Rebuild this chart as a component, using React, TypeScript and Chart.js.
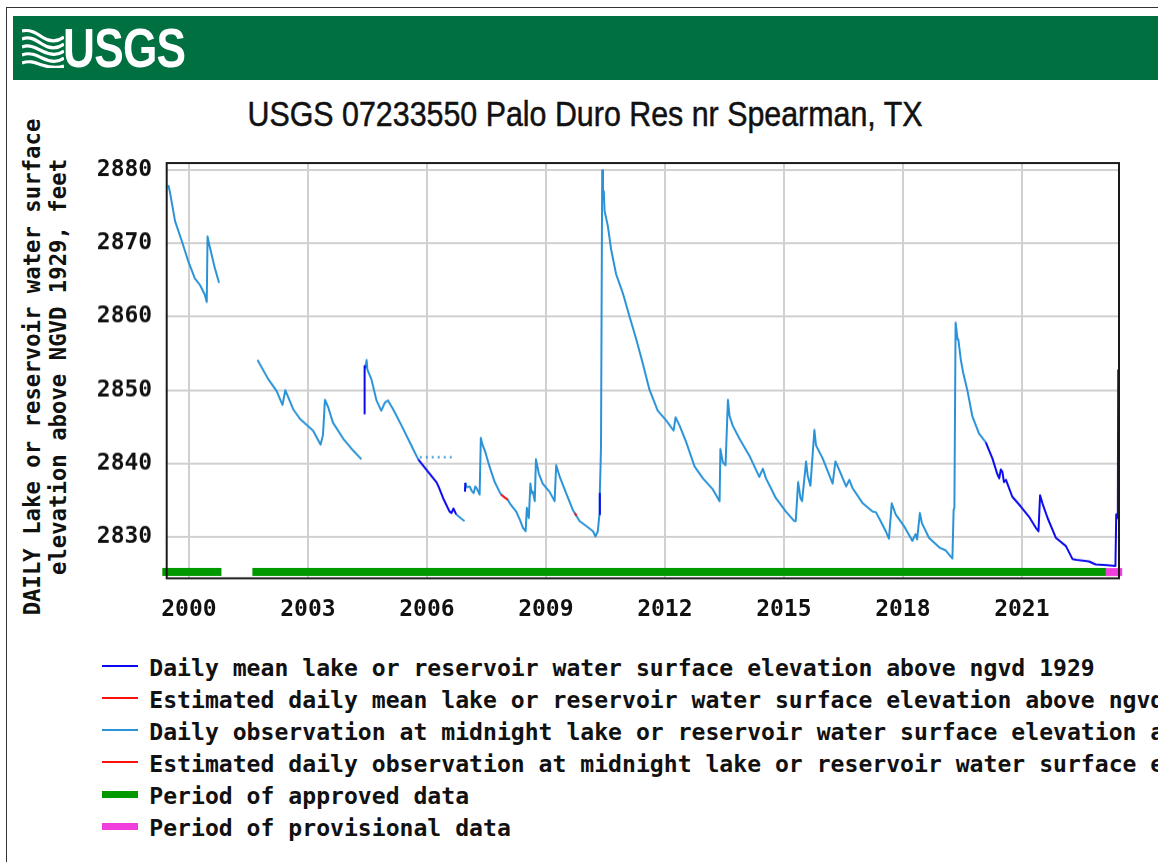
import React, { useEffect, useRef } from "react";
import { Chart, registerables } from "chart.js";

Chart.register(...registerables);

type P = [number, number];

// ---- Axis ticks ----
const xTickYears = [2000, 2003, 2006, 2009, 2012, 2015, 2018, 2021];
const yTickValues = [2830, 2840, 2850, 2860, 2870, 2880];

// ---- Daily observation at midnight (light blue) segments: [decimal year, feet] ----
const obs1999: P[] = [
  [1999.48, 2877.9], [1999.52, 2877.0], [1999.65, 2873.0], [1999.82, 2870.3],
  [1999.98, 2867.6], [2000.15, 2865.2], [2000.28, 2864.3], [2000.40, 2863.0],
  [2000.45, 2862.0], [2000.47, 2870.9], [2000.53, 2869.4], [2000.65, 2866.7],
  [2000.76, 2864.6],
];
const obs2001: P[] = [
  [2001.73, 2854.1], [2002.0, 2851.5], [2002.21, 2849.9], [2002.36, 2848.0],
  [2002.43, 2850.0], [2002.63, 2847.4], [2002.80, 2846.1], [2003.13, 2844.5],
  [2003.32, 2842.6], [2003.38, 2843.9], [2003.43, 2848.7], [2003.51, 2847.7],
  [2003.63, 2845.6], [2003.89, 2843.4], [2004.14, 2841.8], [2004.35, 2840.6],
];
const obs2004: P[] = [
  [2004.45, 2853.0], [2004.48, 2854.1], [2004.50, 2852.8], [2004.60, 2851.5],
  [2004.73, 2848.6], [2004.85, 2847.2], [2004.94, 2848.3], [2005.02, 2848.6],
  [2005.15, 2847.4], [2005.36, 2845.2], [2005.57, 2842.9], [2005.78, 2840.6],
];
const obs2006: P[] = [
  [2006.74, 2833.1], [2006.85, 2832.6], [2006.95, 2832.2],
];
const obs2007: P[] = [
  [2006.97, 2837.4], [2007.0, 2836.8], [2007.08, 2836.9], [2007.13, 2836.3],
  [2007.18, 2836.0], [2007.22, 2836.9], [2007.26, 2836.6], [2007.33, 2835.8],
  [2007.36, 2843.5], [2007.40, 2842.6], [2007.46, 2841.8], [2007.58, 2839.6],
  [2007.71, 2837.5], [2007.83, 2836.2], [2007.87, 2835.8], [2008.04, 2835.1],
  [2008.09, 2834.6], [2008.25, 2833.5], [2008.35, 2832.3], [2008.42, 2831.3],
  [2008.49, 2830.8], [2008.52, 2834.0], [2008.57, 2832.6], [2008.61, 2837.3],
  [2008.64, 2836.0], [2008.67, 2836.2], [2008.72, 2834.9], [2008.75, 2840.6],
  [2008.82, 2838.7], [2008.92, 2837.3], [2009.09, 2836.2], [2009.22, 2834.9],
  [2009.26, 2839.8], [2009.35, 2838.2], [2009.51, 2836.0], [2009.68, 2833.7],
  [2009.85, 2832.2], [2010.02, 2831.5], [2010.19, 2830.8], [2010.25, 2830.1],
  [2010.31, 2830.8], [2010.35, 2833.1], [2010.36, 2836.0], [2010.38, 2840.0],
  [2010.39, 2842.3], [2010.42, 2879.9], [2010.44, 2876.0], [2010.46, 2877.1],
  [2010.48, 2874.4], [2010.56, 2872.4], [2010.65, 2869.0], [2010.77, 2865.8],
  [2010.94, 2863.2], [2011.11, 2860.0], [2011.28, 2856.9], [2011.44, 2853.7],
  [2011.61, 2850.1], [2011.82, 2847.2], [2012.03, 2845.9], [2012.22, 2844.5],
  [2012.27, 2846.3], [2012.37, 2845.2], [2012.54, 2842.9], [2012.75, 2839.6],
  [2012.96, 2838.0], [2013.21, 2836.5], [2013.38, 2834.9], [2013.40, 2842.0],
  [2013.46, 2840.2], [2013.53, 2839.8], [2013.59, 2848.7], [2013.63, 2846.5],
  [2013.71, 2845.2], [2013.88, 2843.4], [2014.13, 2841.1], [2014.38, 2838.2],
  [2014.47, 2839.3], [2014.55, 2838.0], [2014.80, 2835.3], [2015.05, 2833.5],
  [2015.26, 2832.2], [2015.30, 2832.2], [2015.36, 2837.5], [2015.42, 2835.3],
  [2015.46, 2834.9], [2015.56, 2840.3], [2015.60, 2838.4], [2015.67, 2837.0],
  [2015.77, 2844.6], [2015.81, 2842.5], [2015.98, 2840.7], [2016.23, 2837.3],
  [2016.30, 2840.3], [2016.36, 2839.6], [2016.57, 2836.9], [2016.65, 2837.8],
  [2016.73, 2836.7], [2016.99, 2834.6], [2017.24, 2833.5], [2017.32, 2833.4],
  [2017.44, 2832.2], [2017.57, 2830.8], [2017.65, 2829.8], [2017.72, 2834.6],
  [2017.82, 2833.1], [2018.03, 2831.5], [2018.24, 2829.5], [2018.32, 2830.4],
  [2018.36, 2829.7], [2018.43, 2833.3], [2018.48, 2831.9], [2018.66, 2829.9],
  [2018.92, 2828.6], [2019.08, 2828.2], [2019.25, 2827.1], [2019.28, 2833.7],
  [2019.30, 2834.0], [2019.33, 2859.2], [2019.38, 2856.9], [2019.40, 2856.9],
  [2019.46, 2854.2], [2019.52, 2852.4], [2019.63, 2849.9], [2019.75, 2846.5],
  [2019.92, 2844.1], [2020.09, 2842.9],
];
// dotted observation run
const obsDotted2005: P[] = [[2005.82, 2840.9], [2006.66, 2840.9]];

// ---- Daily mean (dark blue) segments ----
const mean2004: P[] = [[2004.43, 2846.7], [2004.43, 2853.3], [2004.45, 2853.0]];
const mean2005: P[] = [
  [2005.78, 2840.6], [2006.03, 2838.9], [2006.24, 2837.5], [2006.30, 2836.8],
  [2006.41, 2835.3], [2006.57, 2833.5], [2006.62, 2833.3], [2006.67, 2833.9],
  [2006.74, 2833.1],
];
const mean2006: P[] = [[2006.96, 2836.2], [2006.97, 2837.4]];
const mean2010: P[] = [[2010.35, 2833.1], [2010.36, 2836.0]];
const mean2020: P[] = [
  [2020.09, 2842.9], [2020.26, 2840.7], [2020.38, 2838.6], [2020.43, 2838.0],
  [2020.47, 2839.2], [2020.51, 2838.9], [2020.55, 2837.5], [2020.60, 2837.8],
  [2020.76, 2835.5], [2020.97, 2834.2], [2021.18, 2832.8], [2021.35, 2831.3],
  [2021.42, 2830.8], [2021.46, 2835.7], [2021.52, 2834.6], [2021.65, 2832.6],
  [2021.86, 2829.9], [2022.11, 2828.8], [2022.28, 2827.0], [2022.38, 2826.9],
  [2022.69, 2826.7], [2022.86, 2826.3], [2023.15, 2826.2], [2023.36, 2826.1],
  [2023.38, 2833.1], [2023.42, 2832.6], [2023.43, 2852.8],
];

// ---- Estimated (red) segments ----
const estMean2007: P[] = [[2007.87, 2835.8], [2007.96, 2835.4], [2008.04, 2835.1]];
const estObs2009: P[] = [[2009.73, 2833.3], [2009.77, 2832.9]];

// ---- Data approval periods ----
const periodLevel = 2825.26;
const approvedPeriods: [number, number][] = [[1999.33, 2000.82], [2001.60, 2023.12]];
const provisionalPeriods: [number, number][] = [[2023.12, 2023.53]];

// ---- Colors ----
const C_MEAN = "#0a0af0";
const C_EST = "#ff1010";
const C_OBS = "#2a93d8";
const C_APPROVED = "#009900";
const C_PROV = "#f03edc";

const legendItems = [
  { label: "Daily mean lake or reservoir water surface elevation above ngvd 1929", color: C_MEAN, thick: 2 },
  { label: "Estimated daily mean lake or reservoir water surface elevation above ngvd 1929", color: C_EST, thick: 2 },
  { label: "Daily observation at midnight lake or reservoir water surface elevation above ngvd 1929", color: C_OBS, thick: 2 },
  { label: "Estimated daily observation at midnight lake or reservoir water surface elevation above ngvd 1929", color: C_EST, thick: 2 },
  { label: "Period of approved data", color: C_APPROVED, thick: 7 },
  { label: "Period of provisional data", color: C_PROV, thick: 7 },
];

type Pt = { x: number; y: number | null };

function joinSegments(segs: P[][]): Pt[] {
  const out: Pt[] = [];
  segs.forEach((seg, i) => {
    if (i > 0) {
      const prev = segs[i - 1];
      out.push({ x: (prev[prev.length - 1][0] + seg[0][0]) / 2, y: null });
    }
    seg.forEach(([x, y]) => out.push({ x, y }));
  });
  return out;
}

function periodPoints(periods: [number, number][]): Pt[] {
  return joinSegments(periods.map(([a, b]) => [[a, periodLevel], [b, periodLevel]] as P[]));
}

const MONO = '"DejaVu Sans Mono", monospace';

const framePlugin = {
  id: "frame",
  afterDatasetsDraw(chart: any) {
    const { ctx, chartArea } = chart;
    const { left, top, right, bottom } = chartArea;
    ctx.save();
    ctx.strokeStyle = "#1a1a1a";
    ctx.lineWidth = 2;
    ctx.strokeRect(left, top, right - left, bottom - top);
    ctx.restore();
  },
};

function lineDs(label: string, data: Pt[], color: string, extra: any = {}) {
  return {
    label,
    data,
    borderColor: color,
    backgroundColor: color,
    borderWidth: 2,
    pointRadius: 0,
    tension: 0,
    spanGaps: false,
    borderJoinStyle: "round",
    fill: false,
    ...extra,
  };
}

export default function App() {
  const canvasRef = useRef<HTMLCanvasElement>(null);

  useEffect(() => {
    const canvas = canvasRef.current;
    if (!canvas) return;
    const chart = new Chart(canvas, {
      type: "line",
      data: {
        datasets: [
          lineDs(legendItems[1].label, joinSegments([estMean2007]), C_EST),
          lineDs(legendItems[3].label, joinSegments([estObs2009]), C_EST),
          lineDs(legendItems[0].label, joinSegments([mean2004, mean2005, mean2006, mean2010, mean2020]), C_MEAN),
          lineDs(legendItems[2].label, joinSegments([obs1999, obs2001, obs2004, obs2006, obs2007]), C_OBS),
          lineDs("dotted observation", joinSegments([obsDotted2005]), C_OBS, { borderDash: [2, 4], borderWidth: 2 }),
          lineDs(legendItems[4].label, periodPoints(approvedPeriods), C_APPROVED, { borderWidth: 8, clip: false, borderCapStyle: "butt", borderJoinStyle: "miter" }),
          lineDs(legendItems[5].label, periodPoints(provisionalPeriods), C_PROV, { borderWidth: 8, clip: false, borderCapStyle: "butt", borderJoinStyle: "miter" }),
        ] as any,
      },
      options: {
        animation: false,
        responsive: true,
        maintainAspectRatio: false,
        devicePixelRatio: 1,
        layout: { padding: { left: 0, top: 0, right: 39, bottom: 0 } },
        plugins: {
          legend: { display: false },
          tooltip: { enabled: false },
          title: { display: false },
        },
        events: [],
        scales: {
          x: {
            type: "linear",
            min: 1999.44,
            max: 2023.45,
            afterBuildTicks: (scale: any) => {
              scale.ticks = xTickYears.map((v) => ({ value: v }));
            },
            afterFit: (scale: any) => {
              scale.height = 42.3;
            },
            grid: { color: "#d0d0d0", lineWidth: 2, drawTicks: false },
            border: { display: false },
            ticks: {
              autoSkip: false,
              maxRotation: 0,
              padding: 18,
              color: "#111",
              font: { family: MONO, size: 23, weight: "bold" },
              callback: (v: any) => String(v),
            },
          },
          y: {
            type: "linear",
            min: 2824.4,
            max: 2880.9,
            afterBuildTicks: (scale: any) => {
              scale.ticks = yTickValues.map((v) => ({ value: v }));
            },
            afterFit: (scale: any) => {
              scale.width = 166.7;
              scale.paddingTop = 0;
              scale.paddingBottom = 0;
            },
            grid: { color: "#d0d0d0", lineWidth: 2, drawTicks: false },
            border: { display: false },
            ticks: {
              autoSkip: false,
              padding: 14.5,
              color: "#111",
              font: { family: MONO, size: 23, weight: "bold" },
              callback: (v: any) => String(v),
            },
          },
        },
      } as any,
      plugins: [framePlugin],
    });
    return () => chart.destroy();
  }, []);

  return (
    <div
      style={{
        position: "absolute",
        left: 0,
        top: 0,
        width: 1158,
        height: 862,
        overflow: "hidden",
        background: "#fff",
      }}
    >
      {/* page frame */}
      <div
        style={{
          position: "absolute",
          left: 6,
          top: 7,
          width: 1200,
          height: 900,
          border: "1px solid #333",
          boxSizing: "border-box",
        }}
      />
      {/* header banner */}
      <div
        style={{
          position: "absolute",
          left: 13,
          top: 16,
          width: 1160,
          height: 64,
          background: "#007041",
        }}
      />
      <svg
        style={{ position: "absolute", left: 22, top: 27 }}
        width={42}
        height={41}
        viewBox="0 0 42 41"
      >
        <g fill="none" stroke="#fff" strokeWidth={3.2} strokeLinecap="butt">
          <path d="M0 4 C8 2, 14 6, 20 10 S34 16, 42 10" />
          <path d="M0 12 C8 9, 14 13, 20 17 S34 23, 42 17" />
          <path d="M0 20 C8 17, 14 21, 20 24 S34 30, 42 24" />
          <path d="M0 28 C8 25, 14 28, 20 31 S34 37, 42 31" />
          <path d="M0 36 C8 33, 14 36, 20 38 S34 42, 42 39" />
        </g>
      </svg>
      <div
        style={{
          position: "absolute",
          left: 63,
          top: 19.7,
          fontFamily: '"Liberation Sans", Arial, sans-serif',
          fontWeight: "bold",
          fontSize: 56,
          lineHeight: "56px",
          color: "#fff",
          whiteSpace: "nowrap",
          transform: "scaleX(0.79)",
          transformOrigin: "left center",
          letterSpacing: -1,
        }}
      >
        USGS
      </div>
      {/* title */}
      <div
        style={{
          position: "absolute",
          left: 585,
          top: 95.5,
          fontFamily: '"Liberation Sans", Arial, sans-serif',
          fontSize: 35,
          lineHeight: "35px",
          color: "#111",
          whiteSpace: "nowrap",
          WebkitTextStroke: "0.5px #111",
          transform: "translateX(-50%) scaleX(0.868)",
          transformOrigin: "center center",
        }}
      >
        USGS 07233550 Palo Duro Res nr Spearman, TX
      </div>
      {/* y axis title */}
      <div
        style={{
          position: "absolute",
          left: 44.75 - 300,
          top: 367 - 26,
          width: 600,
          height: 52,
          textAlign: "center",
          fontFamily: MONO,
          fontWeight: "bold",
          fontSize: 22.3,
          lineHeight: "26px",
          color: "#111",
          whiteSpace: "nowrap",
          transform: "rotate(-90deg)",
          transformOrigin: "center center",
        }}
      >
        <div>DAILY Lake or reservoir water surface</div>
        <div>elevation above NGVD 1929, feet</div>
      </div>
      {/* chart canvas: plot area spans y 159.3 .. 577.7 */}
      <div style={{ position: "absolute", left: 0, top: 159.3, width: 1158, height: 460.7 }}>
        <canvas ref={canvasRef} />
      </div>
      {/* legend */}
      {legendItems.map((item, i) => {
        const cy = 666 + i * 32;
        return (
          <div key={i} style={{ position: "absolute", left: 0, top: cy - 16, width: 1158, height: 32 }}>
            <div
              style={{
                position: "absolute",
                left: 101.7,
                top: 16 - item.thick / 2,
                width: 36.6,
                height: item.thick,
                background: item.color,
              }}
            />
            <div
              style={{
                position: "absolute",
                left: 149.3,
                top: 1.5,
                height: 32,
                lineHeight: "32px",
                fontFamily: MONO,
                fontWeight: "bold",
                fontSize: 23.1,
                color: "#111",
                whiteSpace: "nowrap",
              }}
            >
              {item.label}
            </div>
          </div>
        );
      })}
    </div>
  );
}
